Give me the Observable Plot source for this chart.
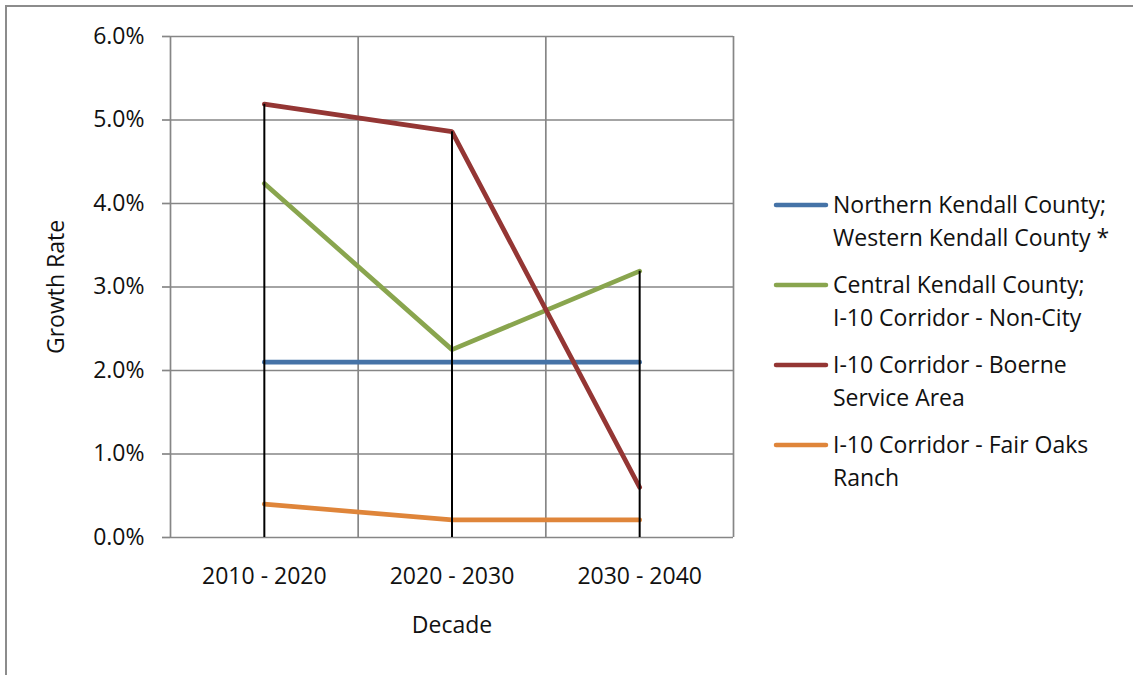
<!DOCTYPE html>
<html>
<head>
<meta charset="utf-8">
<script src="https://cdn.jsdelivr.net/npm/d3@7"></script>
<script src="https://cdn.jsdelivr.net/npm/@observablehq/plot@0.6"></script>
<style>
  html, body { margin: 0; padding: 0; background: #fff; }
  body { width: 1133px; height: 675px; position: relative; overflow: hidden; font-family: "Open Sans", sans-serif; }
  #frame { position: absolute; left: 5px; top: 5px; width: 1200px; height: 800px; border-top: 2px solid #8c8c8c; border-left: 2px solid #8c8c8c; box-sizing: border-box; }
  #chart { position: absolute; left: 0; top: 0; }
  #legend { position: absolute; left: 773px; top: 188px; font-size: 23px; color: #111; }
  .entry { display: flex; align-items: flex-start; margin-bottom: 14px; }
  .entry svg { flex: none; margin-top: 0; }
  .entry div { line-height: 33px; margin-left: 4px; white-space: nowrap; }
</style>
</head>
<body>
<div id="frame"></div>
<div id="chart"></div>
<div id="legend"></div>
<script>
const decades = ["2010 - 2020", "2020 - 2030", "2030 - 2040"];
const northernWestern = [0.0210, 0.0210, 0.0210];
const centralNonCity = [0.0424, 0.0225, 0.0319];
const boerne = [0.0519, 0.0486, 0.0060];
const fairOaks = [0.0040, 0.0021, 0.0021];
const seriesNames = [
  ["Northern Kendall County;", "Western Kendall County *"],
  ["Central Kendall County;", "I-10 Corridor - Non-City"],
  ["I-10 Corridor - Boerne", "Service Area"],
  ["I-10 Corridor - Fair Oaks", "Ranch"]
];
const seriesColors = ["#4573A7", "#89A54E", "#943634", "#DF853A"];
const yTicks = [0, 0.01, 0.02, 0.03, 0.04, 0.05, 0.06];

const seriesValues = [northernWestern, centralNonCity, boerne, fairOaks];
const rows = [];
seriesValues.forEach((vals, s) => vals.forEach((v, i) => rows.push({s, i, v})));
const idx = decades.map((d, i) => i);
const maxes = idx.map(i => d3.max(seriesValues, vals => vals[i]));
const bounds = [-0.5, 0.5, 1.5, 2.5];

const grid = "#868686";
const chart = Plot.plot({
  width: 1133,
  height: 675,
  marginLeft: 170,
  marginRight: 400,
  marginTop: 36,
  marginBottom: 138,
  style: {fontFamily: "Open Sans, sans-serif", fontSize: "23px", color: "#111", background: "transparent"},
  x: {type: "linear", domain: [-0.5, 2.5]},
  y: {domain: [0, 0.06]},
  marks: [
    Plot.ruleY(yTicks, {y: d => d, stroke: grid, strokeWidth: 1.7}),
    Plot.ruleX(bounds, {x: d => d, stroke: grid, strokeWidth: 1.7}),
    ...seriesValues.map((vals, s) => Plot.line(rows.filter(r => r.s === s), {
      x: "i", y: "v", stroke: seriesColors[s], strokeWidth: 4.7,
      strokeLinecap: "round", strokeLinejoin: "miter"
    })),
    Plot.ruleX(idx, {x: d => d, y1: 0, y2: i => maxes[i], stroke: "#000", strokeWidth: 2}),
    Plot.axisY(yTicks, {tickFormat: d3.format(".1%"), tickSize: 8, tickPadding: 18, stroke: grid, strokeWidth: 1.7, label: null, fill: "#111"}),
    Plot.axisX(idx, {tickFormat: i => decades[i], tickSize: 0, tickPadding: 30, label: null, fill: "#111"}),
    Plot.text(["Decade"], {frameAnchor: "bottom", dy: 95, text: d => d, fill: "#111"}),
    Plot.text(["Growth Rate"], {frameAnchor: "left", textAnchor: "middle", dx: -114, rotate: -90, text: d => d, fill: "#111"})
  ]
});
document.getElementById("chart").appendChild(chart);

const legend = document.getElementById("legend");
seriesNames.forEach((lines, s) => {
  const e = document.createElement("div");
  e.className = "entry";
  e.innerHTML = `<svg width="56" height="33"><line x1="3" x2="53" y1="17" y2="17" stroke="${seriesColors[s]}" stroke-width="4.5" stroke-linecap="round"/></svg><div>${lines.join("<br>")}</div>`;
  legend.appendChild(e);
});
</script>
</body>
</html>
